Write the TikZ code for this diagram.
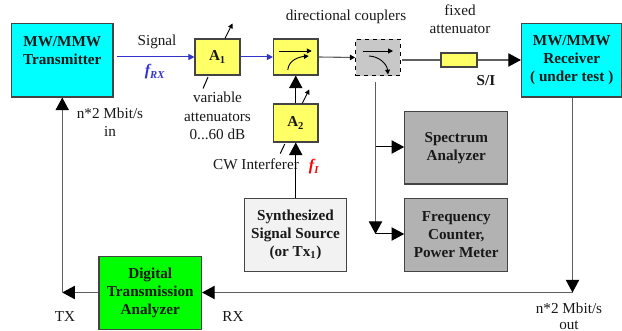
\documentclass[tikz,border=0pt]{standalone}
\usepackage{fontspec}
\setmainfont{Liberation Serif}
\usetikzlibrary{arrows.meta,calc}
\definecolor{boxline}{HTML}{444444}
\definecolor{wire}{HTML}{5F5F5F}
\definecolor{sig}{HTML}{3333CC}
\definecolor{ycell}{HTML}{FFFF66}
\definecolor{gcell}{HTML}{B2B2B2}
\definecolor{ltcell}{HTML}{F2F2F2}
\definecolor{ccell}{HTML}{C8C8C8}
\definecolor{cyancell}{HTML}{00FFFF}
\definecolor{greencell}{HTML}{00FF00}
\definecolor{redtxt}{HTML}{FF0000}
\def\px{0.75pt}
\tikzset{
  x=0.75pt,y=-0.75pt,
  txt/.style={inner sep=0pt,align=center,font=\fontsize{11.4}{13.7}\selectfont,text=black!90},
  cell/.style={txt,draw=boxline,line width=1.1*\px,inner sep=0pt,font=\fontsize{11.4}{13.5}\selectfont\bfseries},
  wirel/.style={draw=wire,line width=1.1*\px},
  blackl/.style={draw=black,line width=1*\px},
  blue line/.style={draw=sig,line width=1*\px},
  big/.style={-{Triangle[length=9.5pt,width=10pt,color=black,fill=black]}},
  small/.style={-{Triangle[length=4pt,width=4pt,color=black,fill=black]}},
  smallb/.style={-{Triangle[length=4.5pt,width=4.5pt,color=sig,fill=sig]}},
  tick/.style={-{Triangle[length=3.6pt,width=3.6pt,color=black,fill=black]},draw=black,line width=0.9*\px},
}
\begin{document}
\begin{tikzpicture}
\useasboundingbox (0,0) rectangle (622,331);
% boxes
\node[cell,fill=cyancell,minimum width=101.5*\px,minimum height=73.5*\px] (tx) at (62.25,60.25) {MW/MMW\\Transmitter\\[1pt]};
\node[cell,fill=cyancell,minimum width=100.5*\px,minimum height=73.5*\px] (rx) at (571.75,60.25) {MW/MMW\\Receiver\\( under test )};
\node[cell,fill=ycell,minimum width=45*\px,minimum height=36*\px] (a1) at (217.5,57) {A\textsubscript{1}};
\node[cell,fill=ycell,minimum width=44.5*\px,minimum height=36*\px] (c1) at (295.75,57) {};
\node[cell,fill=ycell,minimum width=44.5*\px,minimum height=38*\px] (a2) at (295.75,123) {A\textsubscript{2}};
\node[cell,fill=ccell,draw=black,dashed,minimum width=44.5*\px,minimum height=36.5*\px] (c2) at (378,57.5) {};
\node[cell,fill=ycell,minimum width=36*\px,minimum height=14*\px] (fa) at (459,60) {};
\node[cell,fill=gcell,minimum width=103*\px,minimum height=72.5*\px] (sa) at (456.25,147.75) {Spectrum\\Analyzer};
\node[cell,fill=gcell,minimum width=103*\px,minimum height=73.5*\px] (fc) at (456.25,235) {Frequency\\Counter,\\Power Meter};
\node[cell,fill=ltcell,minimum width=102.5*\px,minimum height=73.5*\px] (ss) at (295.5,235) {Synthesized\\Signal Source\\(or Tx\textsubscript{1})};
\node[cell,fill=greencell,minimum width=102.5*\px,minimum height=73.5*\px] (dta) at (150.25,293) {Digital\\Transmission\\Analyzer};
% labels
\node[txt] (lsig) at (157,42) {Signal};
\node[txt,text=sig,font=\fontsize{12}{14}\selectfont\bfseries\itshape] (lfrx) at (155,72) {f\textsubscript{RX}};
\node[txt] (lvar) at (217.5,116) {variable\\attenuators\\0...60 dB};
\node[txt] (lcoup) at (346,17) {directional couplers};
\node[txt] (lfix) at (460,19.5) {fixed\\attenuator};
\node[txt,font=\fontsize{11.4}{13.5}\selectfont\bfseries] (lsi) at (486,81) {S/I};
\node[txt] (lnin) at (110,122.5) {n*2 Mbit/s\\in};
\node[txt] (lcw) at (256,164) {CW Interferer};
\node[txt,text=redtxt,font=\fontsize{12}{14}\selectfont\bfseries\itshape] (lfi) at (314,167) {f\textsubscript{I}};
\node[txt] (ltx) at (65,317) {TX};
\node[txt] (lrx) at (233,317) {RX};
\node[txt,font=\fontsize{11.4}{12}\selectfont] (lnout) at (569,316.5) {n*2 Mbit/s\\out};
% helper points
\coordinate (jtx) at (62.25,292.5);
\coordinate (jrx) at (572.5,292.5);
\coordinate (txin) at (jtx |- tx.south);
\coordinate (cs) at (375.5,82);
\coordinate (cm) at (375.5,147);
\coordinate (ce) at (375.5,234);
\coordinate (txout) at (117,57);
% signal path
\draw[blue line,smallb] (txout) -- (a1.west);
\draw[blue line,smallb] (a1.east) -- (c1.west);
\draw[wirel,small] (c1.east) -- (c2.west);
\draw[wirel] (c2.east |- fa.west) ++(1.5,0) -- (fa.west);
\draw[wirel,big] (fa.east) -- (rx.west |- fa.east);
% interferer path
\draw[blackl,big] (ss.north -| a2.south) -- (a2.south);
\draw[blackl,big] (a2.north) -- (c1.south);
% monitor branch
\draw[wirel,big] (cs) -- (ce);
\draw[blackl,big] (cm) -- (cm -| sa.west);
\draw[blackl,big] (ce) -- (ce -| fc.west);
% digital loop
\draw[wirel,big] (rx.south -| jrx) -- (jrx);
\draw[wirel,big] (jrx) -- (dta.east |- jrx);
\draw[wirel,big] (dta.west |- jtx) -- (jtx);
\draw[wirel,big] (jtx) -- (txin);
% attenuator adjust ticks
\draw[tick] ($(a1.north)+(7.5,0)$) -- ($(a1.north)+(15,-15)$);
\draw[tick] ($(a2.north)+(6.5,0)$) -- ($(a2.north)+(13.5,-14)$);
\draw[blackl] ($(a1.south)+(-14.5,13)$) -- ($(a1.south)+(-9.5,1.5)$);
\draw[blackl] ($(a2.south)+(-15.5,11)$) -- ($(a2.south)+(-11,1.5)$);
% coupler symbols
\draw[tick] ($(c1.center)+(-17,-6)$) -- ($(c1.center)+(16,-6)$);
\draw[tick] ($(c1.center)+(-8,13)$) .. controls ($(c1.center)+(-7,3)$) and ($(c1.center)+(3,0)$) .. ($(c1.center)+(13,-1)$);
\draw[tick] ($(c2.center)+(-15,-6.5)$) -- ($(c2.center)+(15,-6.5)$);
\draw[tick] ($(c2.center)+(-9,-1.5)$) .. controls ($(c2.center)+(2,-1)$) and ($(c2.center)+(9,7)$) .. ($(c2.center)+(10,17)$);
\end{tikzpicture}
\end{document}
